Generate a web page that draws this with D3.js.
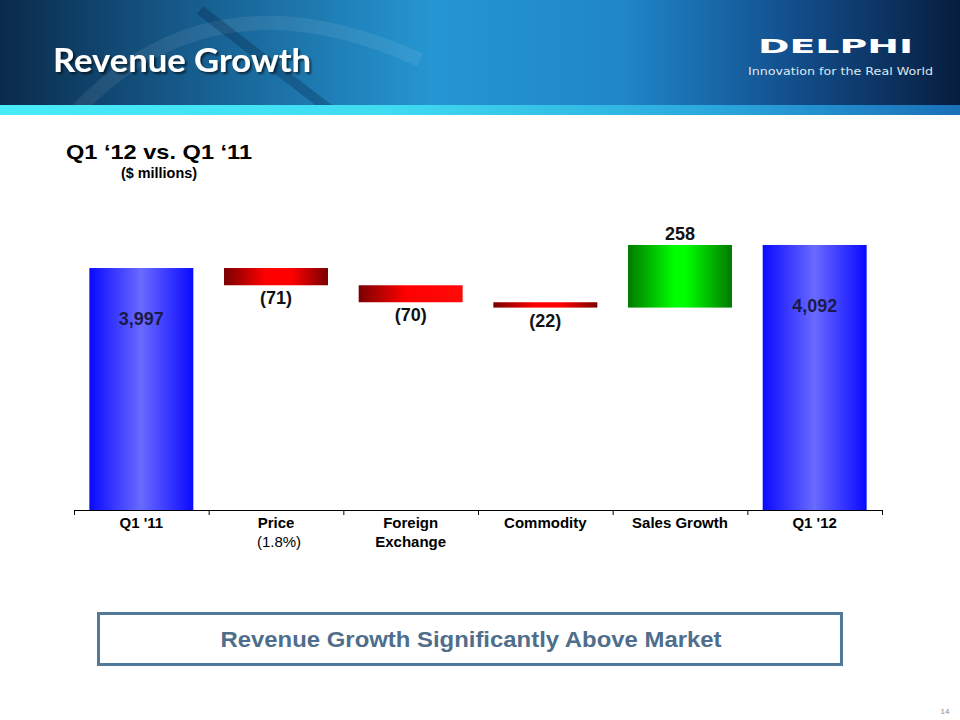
<!DOCTYPE html>
<html>
<head>
<meta charset="utf-8">
<script src="https://cdn.jsdelivr.net/npm/d3@7"></script>
<style>
  html, body { margin: 0; padding: 0; background: #fff; }
  svg { display: block; }
</style>
</head>
<body>
<script>
// ---------- data ----------
const categories = ["Q1 '11", "Price", "Foreign Exchange", "Commodity", "Sales Growth", "Q1 '12"];
const categoryLines = [["Q1 '11"], ["Price", "(1.8%)"], ["Foreign", "Exchange"], ["Commodity"], ["Sales Growth"], ["Q1 '12"]];
const values = [3997, -71, -70, -22, 258, 4092];
const kinds = ["total", "delta", "delta", "delta", "delta", "total"];
const valueLabels = ["3,997", "(71)", "(70)", "(22)", "258", "4,092"];
const yDomain = [3000, 4200];

// ---------- setup ----------
const W = 960, H = 720;
const svg = d3.select("body").append("svg").attr("width", W).attr("height", H)
  .style("font-family", "'Liberation Sans', Arial, sans-serif");
const defs = svg.append("defs");

function hGrad(id, stops) {
  const g = defs.append("linearGradient").attr("id", id)
    .attr("x1", "0%").attr("x2", "100%").attr("y1", "0%").attr("y2", "0%");
  stops.forEach(s => g.append("stop").attr("offset", s[0]).attr("stop-color", s[1]));
}
hGrad("gBlue", [["0%", "#0a0aff"], ["50%", "#6a6aff"], ["100%", "#0a0aff"]]);
hGrad("gRed", [["0%", "#7a0000"], ["40%", "#ff0000"], ["65%", "#ff0000"], ["100%", "#7a0000"]]);
hGrad("gRed2", [["0%", "#7a0000"], ["45%", "#ff0000"], ["100%", "#ff0a0a"]]);
hGrad("gGreen", [["0%", "#007a00"], ["45%", "#00ff00"], ["55%", "#00ff00"], ["100%", "#007a00"]]);
hGrad("gHeader", [["0%", "#0a2a4a"], ["18%", "#155888"], ["45%", "#2596d2"], ["65%", "#1f86c8"], ["82%", "#13508f"], ["100%", "#071d3e"]]);
hGrad("gStripe", [["0%", "#48ecf8"], ["40%", "#40dcf2"], ["75%", "#2aa6dc"], ["100%", "#1a6fb8"]]);

const shadow = defs.append("filter").attr("id", "shadow").attr("x", "-10%").attr("y", "-30%")
  .attr("width", "130%").attr("height", "160%");
shadow.append("feDropShadow").attr("dx", 2).attr("dy", 2).attr("stdDeviation", 1.2)
  .attr("flood-color", "#000").attr("flood-opacity", 0.6);

// ---------- header ----------
svg.append("rect").attr("x", 0).attr("y", 0).attr("width", W).attr("height", 106).attr("fill", "url(#gHeader)");
svg.append("path").attr("d", "M 60 130 Q 200 -40 420 60").attr("fill", "none")
  .attr("stroke", "rgba(255,255,255,0.08)").attr("stroke-width", 14);
svg.append("path").attr("d", "M 200 10 L 330 110").attr("fill", "none")
  .attr("stroke", "rgba(0,20,50,0.25)").attr("stroke-width", 10);
svg.append("rect").attr("x", 0).attr("y", 105).attr("width", W).attr("height", 10).attr("fill", "url(#gStripe)");

svg.append("text").attr("x", 53).attr("y", 72).attr("fill", "#ffffff").attr("filter", "url(#shadow)")
  .attr("font-family", "Lato, 'Open Sans', sans-serif").attr("font-weight", 700).attr("font-size", 33)
  .attr("textLength", 258).attr("lengthAdjust", "spacingAndGlyphs").text("Revenue Growth");

svg.append("text").attr("x", 758).attr("y", 53).attr("fill", "#ffffff")
  .attr("font-family", "'DejaVu Sans', sans-serif").attr("font-weight", 700).attr("font-size", 20)
  .attr("textLength", 155).attr("lengthAdjust", "spacingAndGlyphs").text("DELPHI");
svg.append("text").attr("x", 748).attr("y", 75).attr("fill", "#dfe8f0")
  .attr("font-family", "'DejaVu Sans', sans-serif").attr("font-size", 11)
  .attr("textLength", 185).attr("lengthAdjust", "spacingAndGlyphs").text("Innovation for the Real World");

// ---------- chart titles ----------
svg.append("text").attr("x", 66).attr("y", 159).attr("font-weight", 700).attr("font-size", 21)
  .attr("textLength", 186).attr("lengthAdjust", "spacingAndGlyphs")
  .attr("fill", "#000").text("Q1 \u201812 vs. Q1 \u201811");
svg.append("text").attr("x", 159).attr("y", 178).attr("text-anchor", "middle").attr("font-weight", 700)
  .attr("font-size", 14).attr("textLength", 76).attr("lengthAdjust", "spacingAndGlyphs")
  .attr("fill", "#000").text("($ millions)");

// ---------- scales ----------
const x = d3.scaleBand().domain(categories).range([74, 882]).paddingInner(0.228).paddingOuter(0.114);
const y = d3.scaleLinear().domain(yDomain).range([510, 510 - (yDomain[1] - yDomain[0]) * 0.2427]);

// waterfall computation
let running = 0;
const bars = categories.map((c, i) => {
  let lo, hi;
  if (kinds[i] === "total") { running = values[i]; lo = yDomain[0]; hi = values[i]; }
  else { const s = running; running += values[i]; lo = Math.min(s, running); hi = Math.max(s, running); }
  return { c, i, lo, hi, v: values[i], kind: kinds[i] };
});

function fillFor(b) {
  if (b.kind === "total") return "url(#gBlue)";
  if (b.v > 0) return "url(#gGreen)";
  return b.i === 2 ? "url(#gRed2)" : "url(#gRed)";
}

svg.append("g").selectAll("rect").data(bars).join("rect")
  .attr("x", d => x(d.c)).attr("width", x.bandwidth())
  .attr("y", d => y(d.hi)).attr("height", d => y(d.lo) - y(d.hi))
  .attr("fill", d => fillFor(d));

// value labels
svg.append("g").selectAll("text").data(bars).join("text")
  .attr("x", d => x(d.c) + x.bandwidth() / 2)
  .attr("y", d => {
    if (d.kind === "total") return y(d.hi) + (d.i === 0 ? 57 : 67);
    if (d.v > 0) return y(d.hi) - 5;
    return y(d.lo) + 19;
  })
  .attr("text-anchor", "middle").attr("font-weight", 700).attr("font-size", 18)
  .attr("fill", d => d.kind === "total" ? "#1a1a4a" : "#111")
  .text((d, i) => valueLabels[i]);

// ---------- axis ----------
const axisG = svg.append("g").attr("transform", "translate(0,510)");
axisG.call(d3.axisBottom(x).tickSize(0).tickFormat("")).select(".domain").attr("stroke", "#000");
axisG.selectAll(".tick").remove();
const tickScale = d3.scaleLinear().domain([0, categories.length]).range(x.range());
const tg = svg.append("g").attr("transform", "translate(0,510)")
  .call(d3.axisBottom(tickScale).ticks(categories.length).tickSize(5).tickFormat(""));
tg.select(".domain").remove();
tg.selectAll("line").attr("stroke", "#000");

const lbl = svg.append("g").selectAll("text").data(categories).join("text")
  .attr("x", d => x(d) + x.bandwidth() / 2).attr("y", 528)
  .attr("text-anchor", "middle").attr("font-size", 15).attr("font-weight", 700).attr("fill", "#000");
lbl.each(function (d, i) {
  const t = d3.select(this);
  categoryLines[i].forEach((line, k) => {
    t.append("tspan").attr("x", x(d) + x.bandwidth() / 2 + (line.startsWith("(") ? 3 : 0))
      .attr("dy", k === 0 ? 0 : 19)
      .attr("font-weight", line.startsWith("(") ? 400 : 700)
      .text(line);
  });
});

// ---------- bottom callout ----------
svg.append("rect").attr("x", 98.5).attr("y", 613.5).attr("width", 743).attr("height", 51)
  .attr("fill", "#fff").attr("stroke", "#527a98").attr("stroke-width", 3);
svg.append("text").attr("x", 471).attr("y", 647).attr("text-anchor", "middle")
  .attr("font-weight", 700).attr("font-size", 22).attr("fill", "#4f6e8c")
  .attr("textLength", 501).attr("lengthAdjust", "spacingAndGlyphs")
  .text("Revenue Growth Significantly Above Market");

svg.append("text").attr("x", 945).attr("y", 714).attr("text-anchor", "middle")
  .attr("font-size", 8).attr("fill", "#8a8a8a").text("14");
</script>
</body>
</html>
